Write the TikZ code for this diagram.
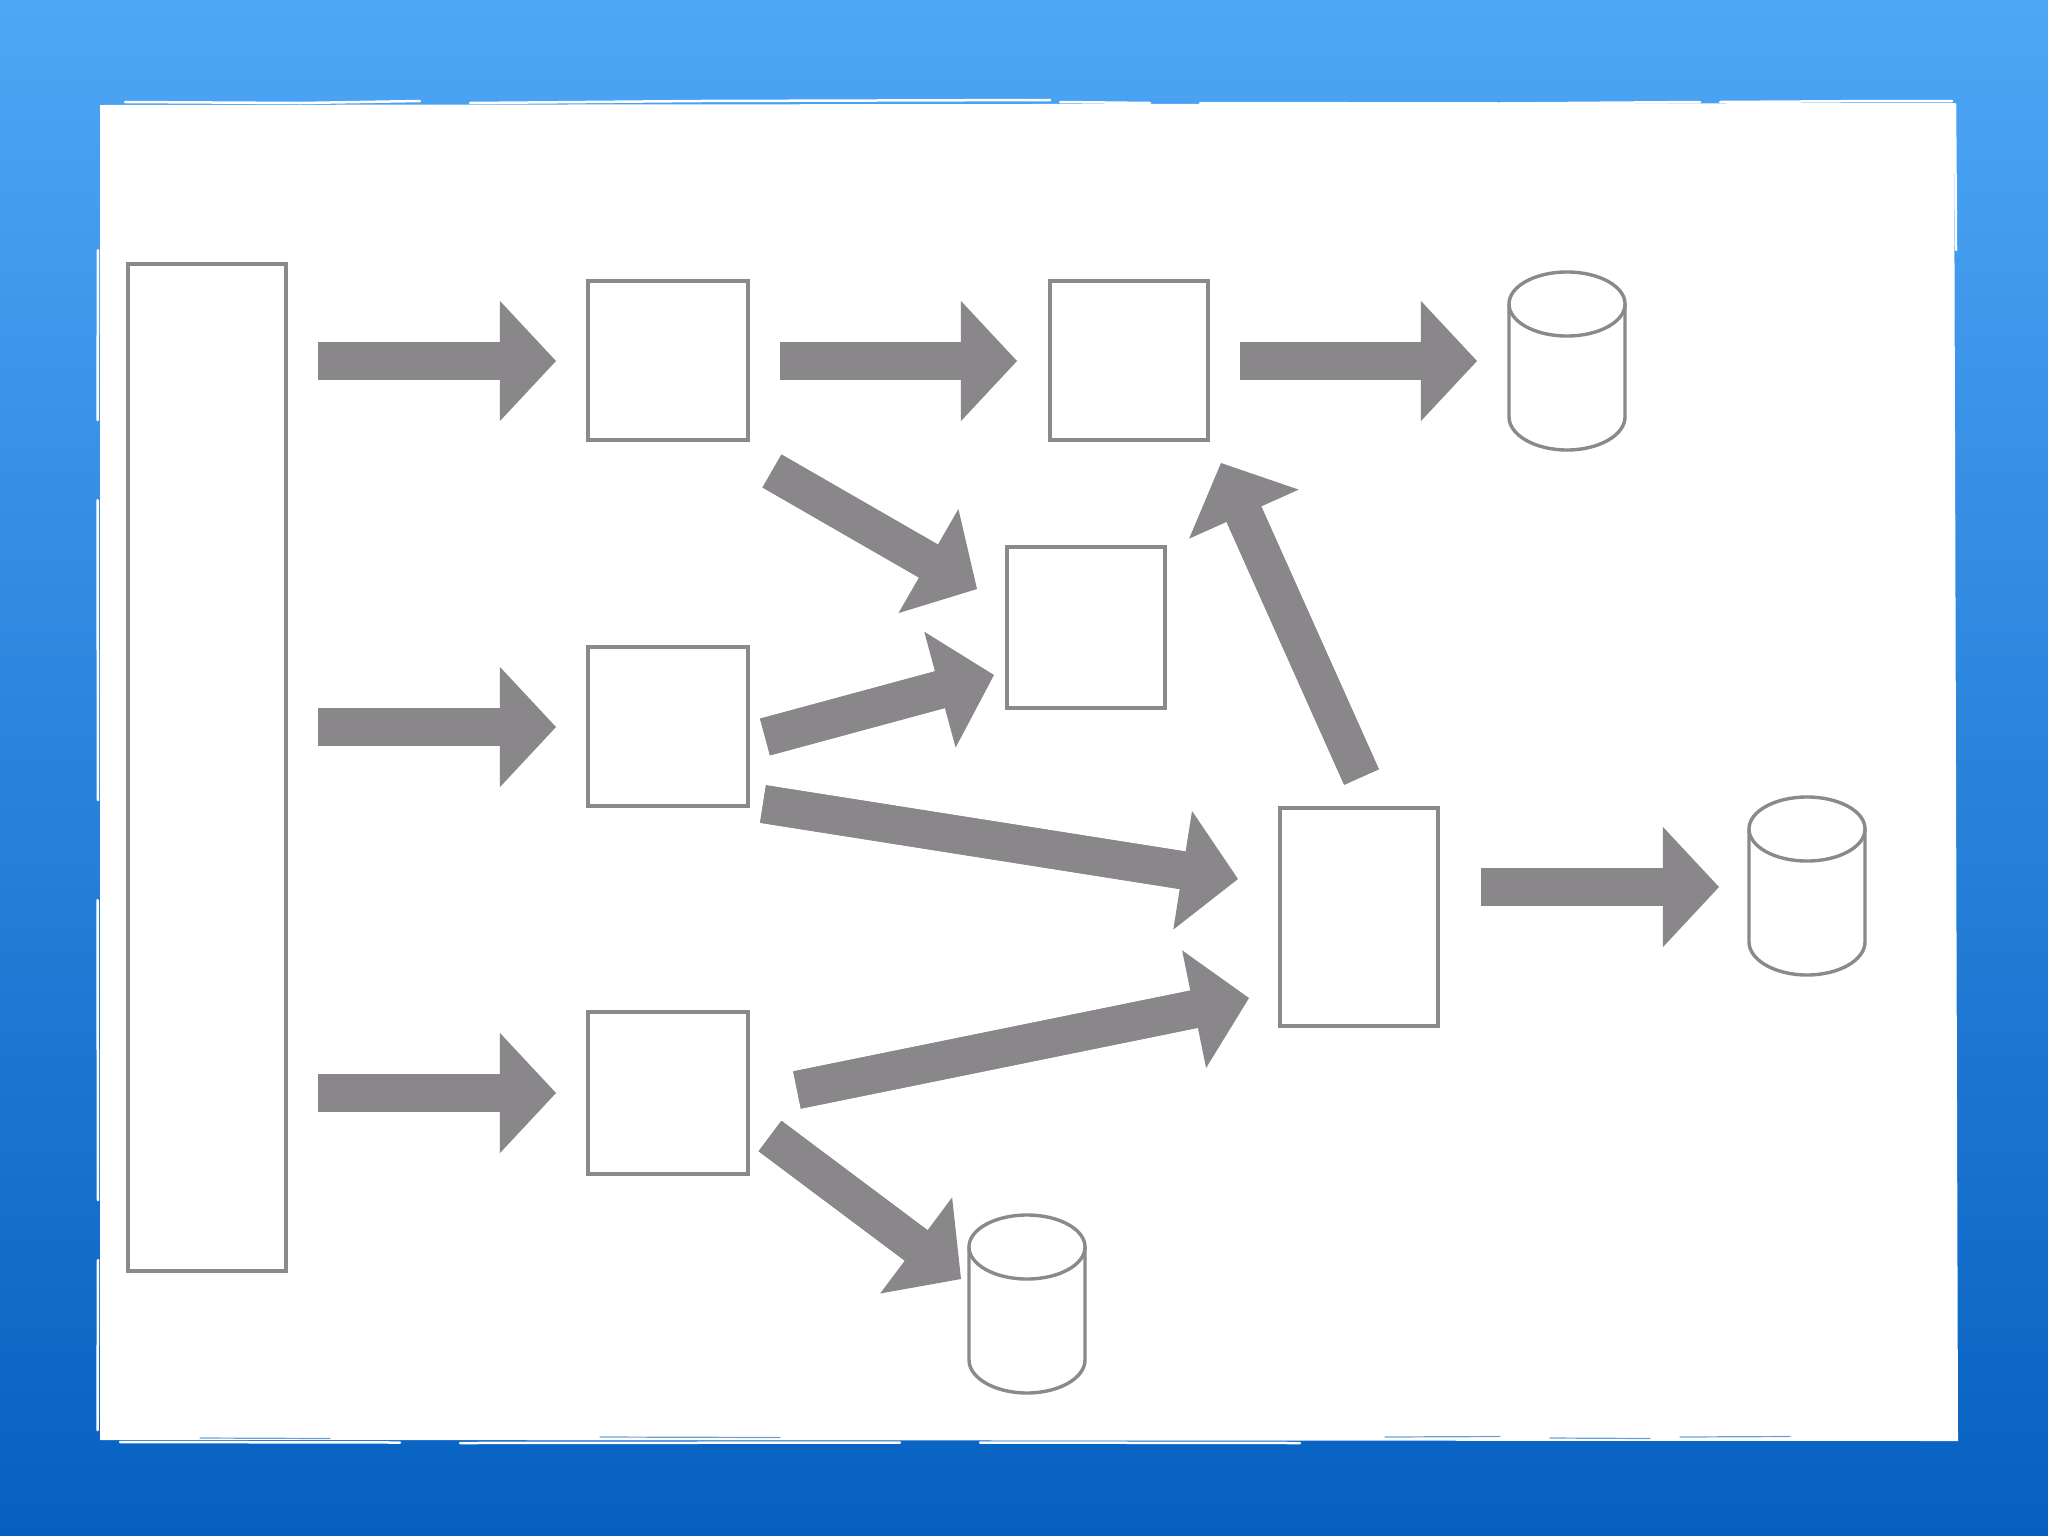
\documentclass[tikz,border=0pt]{standalone}
\usetikzlibrary{arrows.meta}
\definecolor{bgtop}{RGB}{78,166,246}
\definecolor{bgbot}{RGB}{6,96,192}
\definecolor{arrowgray}{RGB}{137,135,138}
\definecolor{linegray}{RGB}{138,137,139}
\tikzset{
  boxnode/.style={draw=linegray, line width=0.04cm, fill=white, inner sep=0pt, outer sep=0pt},
  fatarrow/.style={draw=arrowgray, line width=0.38cm,
    -{Triangle[length=0.56cm, width=1.2cm, line width=0pt, fill=arrowgray]},
    postaction={draw=arrowgray, line width=0.38cm, arrows=-, shorten >=0.45cm}},
  cylline/.style={draw=linegray, line width=0.034cm},
  roughw/.style={draw=white, line width=0.025cm, line cap=round},
  roughb/.style={draw=bgbot!60!white, line width=0.012cm, line cap=round},
  dbcyl/.pic={
    \draw[cylline] (-58,0) -- (-58,113) .. controls (-58,131) and (-32,146) .. (0,146)
          .. controls (32,146) and (58,131) .. (58,113) -- (58,0);
    \draw[cylline] (0,0) ellipse [x radius=0.58cm, y radius=0.32cm];
  }
}
\begin{document}
\begin{tikzpicture}[x=0.01cm, y=-0.01cm]
\useasboundingbox (0,0) rectangle (2048,1536);
% background
\shade[top color=bgtop, bottom color=bgbot] (0,0) rectangle (2048,1536);
% panel
\fill[white] (100,105) -- (1954,103) -- (1958,1441) -- (100,1440) -- cycle;
% rough edges
\draw[roughw] (125,102) -- (300,103) -- (420,101);
\draw[roughw] (470,103) -- (700,101) -- (1050,100);
\draw[roughw] (1060,102) -- (1150,103);
\draw[roughw] (1200,103) -- (1500,103.5) -- (1700,102);
\draw[roughw] (1720,102) -- (1880,101) -- (1952,101);
\draw[roughw] (1955,104) -- (1956,250);
\draw[roughw] (98,250) -- (97.5,420);
\draw[roughw] (97.5,500) -- (98,800);
\draw[roughw] (97.5,900) -- (98,1200);
\draw[roughw] (98,1260) -- (97.5,1430);
\draw[roughw] (120,1442) -- (400,1442.5);
\draw[roughw] (460,1443) -- (900,1442.5);
\draw[roughw] (980,1442.5) -- (1300,1443);
\draw[roughb] (1385,1437) -- (1500,1436.5);
\draw[roughb] (1550,1438) -- (1650,1438.5);
\draw[roughb] (1680,1437) -- (1790,1436.5);
\draw[roughb] (200,1438) -- (330,1438.5);
\draw[roughb] (600,1437) -- (780,1437.5);

% boxes
\node[boxnode, minimum width=1.58cm, minimum height=10.07cm] (src) at (207,767.5) {};
\node[boxnode, minimum width=1.60cm, minimum height=1.59cm] (a1) at (668,360.5) {};
\node[boxnode, minimum width=1.60cm, minimum height=1.59cm] (a2) at (668,726.5) {};
\node[boxnode, minimum width=1.60cm, minimum height=1.62cm] (a3) at (668,1093) {};
\node[boxnode, minimum width=1.58cm, minimum height=1.59cm] (b1) at (1129,360.5) {};
\node[boxnode, minimum width=1.58cm, minimum height=1.61cm] (mid) at (1086,627.5) {};
\node[boxnode, minimum width=1.58cm, minimum height=2.18cm] (rgt) at (1359,917) {};

% cylinders
\pic (cyla) at (1567,304) {dbcyl};
\pic (cylb) at (1807,829) {dbcyl};
\pic (cylc) at (1027,1247) {dbcyl};

% arrow end coordinates
\coordinate (h1s) at (318,361);  \coordinate (h1e) at (556,361);
\coordinate (h2s) at (318,727);  \coordinate (h2e) at (556,727);
\coordinate (h3s) at (318,1093); \coordinate (h3e) at (556,1093);
\coordinate (h4s) at (780,361);  \coordinate (h4e) at (1017,361);
\coordinate (h5s) at (1240,361); \coordinate (h5e) at (1477,361);
\coordinate (h6s) at (1481,887); \coordinate (h6e) at (1719,887);
\coordinate (d1s) at (772,471);  \coordinate (d1e) at (977,589);
\coordinate (d2s) at (765,737);  \coordinate (d2e) at (994,675);
\coordinate (d3s) at (763,804);  \coordinate (d3e) at (1238,879);
\coordinate (d4s) at (797,1090); \coordinate (d4e) at (1249,998);
\coordinate (d5s) at (770,1136); \coordinate (d5e) at (961,1279);
\coordinate (d6s) at (1361.5,777); \coordinate (d6e) at (1221,463);

% arrows
\draw[fatarrow] (h1s) -- (h1e);
\draw[fatarrow] (h2s) -- (h2e);
\draw[fatarrow] (h3s) -- (h3e);
\draw[fatarrow] (h4s) -- (h4e);
\draw[fatarrow] (h5s) -- (h5e);
\draw[fatarrow] (h6s) -- (h6e);
\draw[fatarrow] (d1s) -- (d1e);
\draw[fatarrow] (d2s) -- (d2e);
\draw[fatarrow] (d3s) -- (d3e);
\draw[fatarrow] (d4s) -- (d4e);
\draw[fatarrow] (d5s) -- (d5e);
\draw[fatarrow] (d6s) -- (d6e);
\end{tikzpicture}
\end{document}
